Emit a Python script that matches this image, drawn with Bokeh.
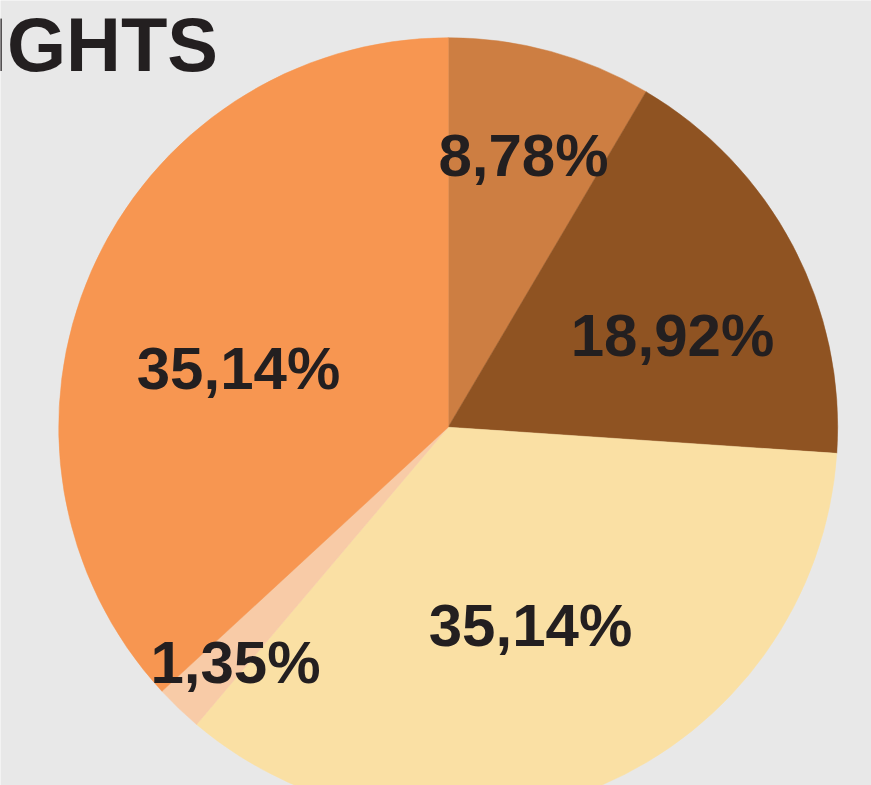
import math
from bokeh.plotting import figure
from bokeh.models import Range1d, ColumnDataSource
from bokeh.core.properties import value
from bokeh.embed import file_html
from bokeh.resources import INLINE

# ---- data ----
categories = ["A", "B", "C", "D", "E"]
# wedge sizes as drawn in the picture (percent of the full circle)
shares = [8.48, 17.59, 35.11, 1.96, 36.86]
# printed labels
labels = ["8,78%", "18,92%", "35,14%", "1,35%", "35,14%"]
title_text = "IGHTS"

# ---- styling / layout ----
colors = ["#CD7E42", "#8F5322", "#FAE0A4", "#F8CBA7", "#F79651"]
W, H = 871, 785
cx, cy, R = 447.7, H - 426.7, 389.5
# label centres (screen px from top-left)
label_pos = [(523, 155), (672, 335), (530, 625), (235, 662), (238, 368)]
bg = "#E8E8E8"
txt = "#231F20"

total = sum(shares)
starts, ends = [], []
acc = 0.0
for s in shares:
    a0 = math.pi / 2 - 2 * math.pi * acc / total
    acc += s
    a1 = math.pi / 2 - 2 * math.pi * acc / total
    starts.append(a0)
    ends.append(a1)

src = ColumnDataSource(dict(cat=categories, start=starts, end=ends, color=colors,
                            x=[cx] * len(shares), y=[cy] * len(shares)))

p = figure(width=W, height=H, x_range=Range1d(0, W), y_range=Range1d(0, H),
           output_backend="svg", toolbar_location=None, min_border=0)
p.axis.visible = False
p.grid.visible = False
p.outline_line_color = None
p.background_fill_color = bg
p.border_fill_color = bg

p.wedge(x="x", y="y", radius=R, start_angle="start", end_angle="end",
        direction="clock", fill_color="color", line_color="color", line_width=0.5,
        source=src)

lsrc = ColumnDataSource(dict(x=[lp[0] for lp in label_pos],
                             y=[H - lp[1] for lp in label_pos],
                             t=labels))
p.text(x="x", y="y", text="t", source=lsrc, text_align="center",
       text_baseline="middle", text_font=value("Liberation Sans"),
       text_font_style="bold", text_font_size="60px", text_color=txt)

p.text(x=[217.5], y=[H - 44], text=[title_text], text_align="right",
       text_baseline="alphabetic", text_font=value("Liberation Sans"),
       text_font_style="bold", text_font_size="76px", text_color=txt)

open("out.html", "w").write(file_html(p, INLINE))
